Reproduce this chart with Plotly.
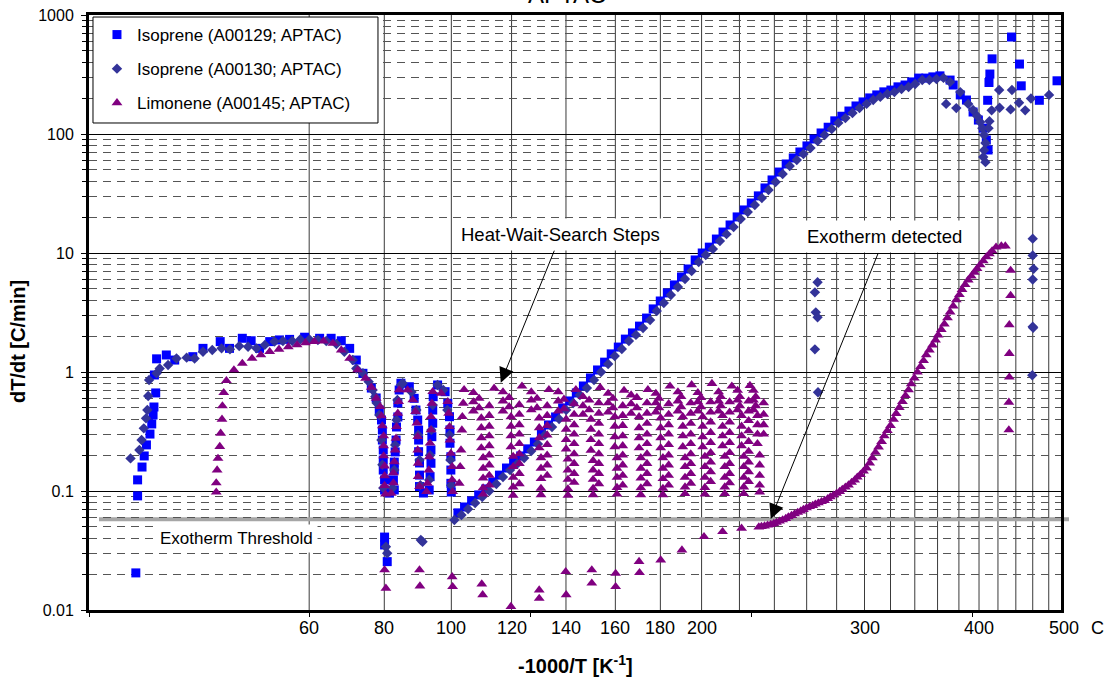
import math
import plotly.graph_objects as go

FONT = "Liberation Sans, Arial, Helvetica, sans-serif"

# ---------------------------------------------------------------------------
# Data: x = -1000/T [1/K], y = dT/dt [C/min]
# ---------------------------------------------------------------------------

# Isoprene, run A00129 (APTAC)
iso129_warmup = [
    (-3.390, 0.091), (-3.390, 0.124), (-3.380, 0.159), (-3.375, 0.197), (-3.370, 0.244),
    (-3.362, 0.301), (-3.358, 0.366), (-3.355, 0.435), (-3.353, 0.508), (-3.349, 0.667),
    (-3.352, 0.944), (-3.347, 1.29), (-3.325, 1.39), (-3.306, 1.26), (-3.265, 1.345),
    (-3.242, 1.58), (-3.203, 1.80), (-3.182, 1.58), (-3.153, 1.92), (-3.133, 1.83),
    (-3.114, 1.58), (-3.091, 1.80), (-3.069, 1.86), (-3.046, 1.88), (-3.012, 1.96),
    (-2.978, 1.92), (-2.952, 1.92), (-2.929, 1.83), (-2.910, 1.58), (-2.895, 1.26),
    (-2.880, 0.975), (-2.861, 0.733), (-2.850, 0.605), (-2.843, 0.479), (-2.838, 0.395),
    (-2.836, 0.325), (-2.836, 0.268), (-2.834, 0.221), (-2.834, 0.182), (-2.834, 0.150),
    (-2.831, 0.124), (-2.831, 0.102),
]
iso129_hws = [
    (-2.820, 0.096),
    (-2.809, 0.102), (-2.811, 0.124), (-2.809, 0.150), (-2.809, 0.175), (-2.807, 0.213),
    (-2.805, 0.268), (-2.804, 0.345), (-2.801, 0.419), (-2.801, 0.549), (-2.798, 0.706),
    (-2.794, 0.804), (-2.775, 0.752), (-2.764, 0.601), (-2.760, 0.479), (-2.756, 0.395),
    (-2.754, 0.325), (-2.754, 0.268), (-2.754, 0.214), (-2.752, 0.172), (-2.752, 0.136),
    (-2.752, 0.109), (-2.743, 0.0962),
    (-2.730, 0.102), (-2.728, 0.132), (-2.726, 0.171), (-2.726, 0.221), (-2.724, 0.286),
    (-2.722, 0.371), (-2.722, 0.479), (-2.721, 0.620), (-2.711, 0.778), (-2.694, 0.683),
    (-2.688, 0.546), (-2.684, 0.421), (-2.683, 0.326), (-2.683, 0.252), (-2.681, 0.194),
    (-2.681, 0.150), (-2.681, 0.116), (-2.680, 0.098),
]
iso129_low = [(-3.394, 0.0205), (-2.831, 0.041), (-2.831, 0.0352), (-2.825, 0.0255)]
iso129_exotherm = [
    (-2.665, 0.0655), (-2.650, 0.0734), (-2.634, 0.0825), (-2.618, 0.0927), (-2.602, 0.104),
    (-2.586, 0.119), (-2.571, 0.136), (-2.555, 0.156), (-2.539, 0.176), (-2.523, 0.197),
    (-2.507, 0.226), (-2.492, 0.258), (-2.476, 0.308), (-2.460, 0.359), (-2.444, 0.419),
    (-2.428, 0.499), (-2.412, 0.571), (-2.397, 0.667), (-2.381, 0.763), (-2.365, 0.891),
    (-2.349, 1.04), (-2.333, 1.21), (-2.318, 1.42), (-2.302, 1.62), (-2.286, 1.89),
    (-2.270, 2.13), (-2.254, 2.43), (-2.238, 2.84), (-2.223, 3.39), (-2.207, 3.95),
    (-2.191, 4.62), (-2.175, 5.39), (-2.159, 6.29), (-2.144, 7.34), (-2.128, 8.74),
    (-2.112, 10.0), (-2.096, 11.2), (-2.080, 13.1), (-2.065, 15.0), (-2.049, 17.2),
    (-2.033, 20.1), (-2.017, 23.0), (-2.001, 26.3), (-1.985, 30.2), (-1.970, 35.2),
    (-1.954, 41.1), (-1.938, 47.9), (-1.922, 56.0), (-1.906, 62.9), (-1.891, 70.6),
    (-1.875, 79.4), (-1.859, 90.8), (-1.843, 102), (-1.827, 114), (-1.812, 129),
    (-1.796, 141), (-1.780, 156), (-1.764, 172), (-1.748, 186), (-1.733, 201),
    (-1.717, 213), (-1.701, 226), (-1.685, 234), (-1.669, 249), (-1.653, 258),
    (-1.638, 274), (-1.622, 295), (-1.606, 295), (-1.590, 302), (-1.574, 308),
    (-1.551, 284), (-1.544, 258), (-1.528, 213), (-1.514, 193), (-1.499, 153),
    (-1.487, 131), (-1.476, 112), (-1.469, 89), (-1.465, 73.4),
]
iso129_runaway = [
    (-1.412, 653), (-1.456, 428), (-1.394, 387), (-1.461, 319), (-1.463, 271),
    (-1.390, 254), (-1.309, 280), (-1.466, 192), (-1.349, 192),
]

# Isoprene, run A00130 (APTAC)
iso130_warmup = [
    (-3.406, 0.188), (-3.386, 0.221), (-3.381, 0.268), (-3.376, 0.336), (-3.371, 0.408),
    (-3.368, 0.479), (-3.366, 0.628), (-3.364, 0.857), (-3.347, 0.975), (-3.340, 1.07),
    (-3.321, 1.145), (-3.302, 1.30), (-3.279, 1.32), (-3.261, 1.30), (-3.242, 1.48),
    (-3.221, 1.53), (-3.200, 1.58), (-3.181, 1.55), (-3.160, 1.65), (-3.140, 1.63),
    (-3.121, 1.58), (-3.102, 1.69), (-3.080, 1.80), (-3.061, 1.82), (-3.040, 1.82),
    (-3.022, 1.88), (-3.001, 1.88), (-2.982, 1.86), (-2.963, 1.82), (-2.940, 1.72),
    (-2.922, 1.48), (-2.903, 1.26), (-2.895, 1.07), (-2.880, 0.975), (-2.867, 0.83),
    (-2.858, 0.706), (-2.852, 0.62), (-2.849, 0.549), (-2.843, 0.435), (-2.838, 0.268),
    (-2.836, 0.166), (-2.834, 0.106),
]
iso130_hws = [
    (-2.813, 0.106), (-2.809, 0.150), (-2.807, 0.243), (-2.804, 0.395), (-2.802, 0.582),
    (-2.794, 0.778), (-2.790, 0.804), (-2.770, 0.679), (-2.759, 0.479), (-2.755, 0.296),
    (-2.752, 0.182), (-2.750, 0.112), (-2.730, 0.124), (-2.728, 0.200), (-2.725, 0.325),
    (-2.722, 0.528), (-2.711, 0.778), (-2.698, 0.706), (-2.689, 0.479), (-2.684, 0.296),
    (-2.682, 0.182), (-2.680, 0.112),
]
iso130_low = [(-2.828, 0.034), (-2.825, 0.030), (-2.749, 0.0387), (-2.745, 0.0375)]
iso130_exotherm = [
    (-2.673, 0.0571), (-2.657, 0.0629), (-2.642, 0.0706), (-2.626, 0.0793), (-2.610, 0.0891),
    (-2.594, 0.100), (-2.578, 0.1146), (-2.563, 0.131), (-2.547, 0.150), (-2.531, 0.169),
    (-2.515, 0.189), (-2.499, 0.217), (-2.484, 0.248), (-2.468, 0.296), (-2.452, 0.345),
    (-2.436, 0.403), (-2.420, 0.480), (-2.404, 0.549), (-2.389, 0.641), (-2.373, 0.734),
    (-2.357, 0.857), (-2.341, 1.00), (-2.325, 1.167), (-2.310, 1.362), (-2.294, 1.561),
    (-2.278, 1.82), (-2.262, 2.05), (-2.246, 2.34), (-2.230, 2.73), (-2.215, 3.26),
    (-2.199, 3.80), (-2.183, 4.44), (-2.167, 5.18), (-2.151, 6.05), (-2.136, 7.06),
    (-2.120, 8.40), (-2.104, 9.62), (-2.088, 10.8), (-2.072, 12.6), (-2.057, 14.4),
    (-2.041, 16.5), (-2.025, 19.3), (-2.009, 22.1), (-1.993, 25.3), (-1.977, 29.0),
    (-1.962, 33.8), (-1.946, 39.5), (-1.930, 46.1), (-1.914, 53.8), (-1.898, 60.5),
    (-1.883, 67.9), (-1.867, 76.3), (-1.851, 87.3), (-1.835, 98.1), (-1.819, 110),
    (-1.804, 124), (-1.788, 136), (-1.772, 150), (-1.756, 165), (-1.740, 179),
    (-1.725, 193), (-1.709, 205), (-1.693, 217), (-1.677, 225), (-1.661, 239),
    (-1.645, 248), (-1.630, 263), (-1.614, 284), (-1.598, 284), (-1.582, 290),
    (-1.566, 296),
    (-1.551, 273), (-1.560, 179), (-1.537, 165), (-1.528, 225), (-1.510, 179),
    (-1.499, 159), (-1.490, 142), (-1.483, 126), (-1.478, 112), (-1.474, 98),
    (-1.471, 84), (-1.474, 73), (-1.476, 64), (-1.471, 58),
]
iso130_runaway = [
    (-1.440, 234), (-1.411, 234), (-1.457, 158), (-1.439, 166), (-1.414, 161),
    (-1.395, 183), (-1.381, 158), (-1.368, 199), (-1.327, 213), (-1.462, 128),
    (-1.464, 112),
]
iso130_spikes = [
    (-1.851, 5.68), (-1.857, 4.67), (-1.855, 3.17), (-1.851, 2.88), (-1.857, 1.55),
    (-1.850, 0.675),
    (-1.364, 13.2), (-1.364, 9.55), (-1.362, 7.36), (-1.364, 5.98), (-1.364, 2.40),
    (-1.363, 2.35), (-1.365, 0.94),
]

# Limonene, run A00145 (APTAC)
lim_warmup = [
    (-3.212, 0.0977), (-3.212, 0.117), (-3.210, 0.150), (-3.208, 0.188), (-3.204, 0.236),
    (-3.202, 0.305), (-3.199, 0.40), (-3.198, 0.518), (-3.195, 0.67), (-3.189, 0.845),
    (-3.172, 1.04), (-3.153, 1.18), (-3.131, 1.30), (-3.111, 1.39), (-3.091, 1.48),
    (-3.070, 1.55), (-3.049, 1.63), (-3.029, 1.69), (-3.010, 1.76), (-2.990, 1.80),
    (-2.969, 1.82), (-2.948, 1.74), (-2.929, 1.53), (-2.910, 1.30), (-2.892, 1.04),
    (-2.874, 0.885), (-2.861, 0.744), (-2.850, 0.601), (-2.841, 0.511), (-2.838, 0.427),
    (-2.836, 0.352), (-2.833, 0.29), (-2.833, 0.239), (-2.833, 0.197), (-2.831, 0.162),
    (-2.831, 0.134), (-2.831, 0.111), (-2.829, 0.094),
]
lim_hws_early = [
    (-2.816, 0.0957), (-2.811, 0.117), (-2.811, 0.142), (-2.809, 0.176), (-2.807, 0.221),
    (-2.805, 0.277), (-2.804, 0.347), (-2.801, 0.450), (-2.799, 0.563), (-2.798, 0.706),
    (-2.779, 0.706), (-2.767, 0.582), (-2.761, 0.464), (-2.758, 0.371), (-2.756, 0.286),
    (-2.756, 0.221), (-2.755, 0.171), (-2.755, 0.132), (-2.752, 0.109), (-2.736, 0.0987),
    (-2.734, 0.116), (-2.731, 0.150), (-2.730, 0.194), (-2.728, 0.252), (-2.726, 0.326),
    (-2.726, 0.421), (-2.724, 0.546), (-2.722, 0.683), (-2.703, 0.662), (-2.688, 0.563),
    (-2.686, 0.450), (-2.684, 0.347), (-2.683, 0.268), (-2.681, 0.207), (-2.678, 0.160),
    (-2.678, 0.124), (-2.677, 0.0987),
    (-2.662, 0.116), (-2.660, 0.160), (-2.658, 0.221), (-2.656, 0.325), (-2.655, 0.421),
    (-2.653, 0.546),
]
# heat-wait-search steps 110..230 C: (x, [dT/dt readings at that x])
lim_step_cols = [
    (-2.651, [0.71]), (-2.630, [0.67, 0.56, 0.47]), (-2.617, [0.60, 0.50]),
    (-2.612, [0.41, 0.34, 0.28, 0.23]), (-2.608, [0.19, 0.155, 0.128, 0.106, 0.094]),
    (-2.594, [0.52, 0.43, 0.35, 0.29, 0.24, 0.20, 0.165, 0.135, 0.112]),

    (-2.583, [0.73]), (-2.563, [0.68, 0.57, 0.47]), (-2.549, [0.61, 0.51]),
    (-2.545, [0.42, 0.35, 0.29, 0.235]), (-2.540, [0.195, 0.16, 0.13, 0.108, 0.092]),
    (-2.526, [0.53, 0.44, 0.36, 0.30, 0.25, 0.205, 0.17, 0.14, 0.115]),

    (-2.520, [0.76]), (-2.499, [0.68, 0.58, 0.48]), (-2.486, [0.60, 0.50]),
    (-2.481, [0.41, 0.34, 0.28, 0.23]), (-2.477, [0.19, 0.155, 0.127, 0.105, 0.093]),
    (-2.463, [0.52, 0.43, 0.355, 0.295, 0.245, 0.20, 0.165, 0.135]),

    (-2.459, [0.71]), (-2.438, [0.68, 0.57, 0.47]), (-2.425, [0.59, 0.49]),
    (-2.420, [0.40, 0.33, 0.27, 0.225]), (-2.416, [0.185, 0.15, 0.125, 0.104, 0.092]),
    (-2.402, [0.54, 0.44, 0.36, 0.30, 0.25, 0.205, 0.17, 0.14, 0.118]),

    (-2.398, [0.71]), (-2.382, [0.62, 0.52, 0.44]), (-2.368, [0.58, 0.48]),
    (-2.364, [0.40, 0.33, 0.27, 0.22]), (-2.359, [0.18, 0.15, 0.125, 0.105, 0.093]),
    (-2.346, [0.55, 0.45, 0.37, 0.30, 0.25, 0.205, 0.17, 0.14, 0.115]),

    (-2.343, [0.74]), (-2.325, [0.66, 0.55, 0.46]), (-2.314, [0.60, 0.50]),
    (-2.310, [0.42, 0.35, 0.285, 0.235]), (-2.305, [0.19, 0.155, 0.13, 0.107, 0.094]),
    (-2.292, [0.52, 0.43, 0.355, 0.29, 0.24, 0.20, 0.165, 0.135, 0.112]),

    (-2.289, [0.70]), (-2.273, [0.64, 0.54, 0.45]), (-2.260, [0.61, 0.50]),
    (-2.255, [0.42, 0.34, 0.28, 0.23]), (-2.251, [0.19, 0.155, 0.128, 0.106, 0.093]),
    (-2.237, [0.55, 0.45, 0.37, 0.30, 0.25, 0.205, 0.17, 0.14, 0.115]),

    (-2.235, [0.71]), (-2.217, [0.66, 0.55, 0.46]), (-2.210, [0.60, 0.50]),
    (-2.206, [0.41, 0.34, 0.28, 0.23]), (-2.201, [0.19, 0.155, 0.127, 0.105, 0.093]),
    (-2.188, [0.54, 0.44, 0.36, 0.30, 0.245, 0.20, 0.165, 0.135, 0.112]),

    (-2.185, [0.76]), (-2.167, [0.68, 0.57, 0.47]), (-2.160, [0.62, 0.51]),
    (-2.156, [0.42, 0.35, 0.29, 0.235]), (-2.151, [0.19, 0.16, 0.13, 0.108, 0.095]),
    (-2.138, [0.55, 0.45, 0.37, 0.30, 0.25, 0.205, 0.17, 0.14, 0.116]),

    (-2.136, [0.78]), (-2.122, [0.67, 0.56, 0.47]), (-2.115, [0.61, 0.51]),
    (-2.111, [0.42, 0.35, 0.285, 0.235]), (-2.106, [0.195, 0.16, 0.13, 0.107, 0.094]),
    (-2.093, [0.56, 0.46, 0.38, 0.31, 0.255, 0.21, 0.175, 0.145, 0.12]),

    (-2.090, [0.80]), (-2.075, [0.68, 0.57, 0.47]), (-2.070, [0.62, 0.52]),
    (-2.066, [0.43, 0.35, 0.29, 0.24]), (-2.061, [0.195, 0.16, 0.13, 0.108, 0.095]),
    (-2.050, [0.56, 0.46, 0.38, 0.31, 0.255, 0.21, 0.17, 0.14, 0.117]),

    (-2.045, [0.76]), (-2.032, [0.70, 0.58, 0.48]), (-2.027, [0.62, 0.52]),
    (-2.023, [0.43, 0.35, 0.29, 0.24]), (-2.018, [0.195, 0.16, 0.13, 0.108, 0.095]),
    (-2.007, [0.57, 0.47, 0.39, 0.32, 0.26, 0.215, 0.175, 0.145, 0.12]),

    (-2.004, [0.77]), (-1.996, [0.70, 0.58, 0.48]), (-1.991, [0.62, 0.52]),
    (-1.987, [0.43, 0.36, 0.30, 0.25]), (-1.982, [0.20, 0.165, 0.135, 0.112, 0.098]),
    (-1.973, [0.55, 0.44, 0.36, 0.30]),
]
lim_low = [
    (-2.831, 0.0217), (-2.828, 0.0152), (-2.752, 0.0217), (-2.751, 0.0159),
    (-2.678, 0.0190), (-2.677, 0.0157), (-2.611, 0.0165), (-2.609, 0.0134),
    (-2.545, 0.0107), (-2.481, 0.0147), (-2.481, 0.0125), (-2.421, 0.0210),
    (-2.420, 0.0134), (-2.362, 0.0217), (-2.362, 0.0168), (-2.308, 0.0203),
    (-2.308, 0.0157), (-2.255, 0.0255), (-2.254, 0.0206), (-2.206, 0.0263),
    (-2.158, 0.0319), (-2.108, 0.0413), (-2.066, 0.0455), (-2.023, 0.0486),
]
lim_exotherm = [
    (-1.984, 0.0498), (-1.978, 0.0503), (-1.971, 0.0508), (-1.964, 0.0516),
    (-1.957, 0.0523), (-1.950, 0.0533), (-1.944, 0.0544), (-1.937, 0.0557),
    (-1.930, 0.0571), (-1.923, 0.0587), (-1.917, 0.0605), (-1.910, 0.0622),
    (-1.903, 0.0641), (-1.896, 0.0660), (-1.889, 0.0679), (-1.883, 0.0699),
    (-1.876, 0.0720), (-1.869, 0.0738), (-1.862, 0.0755), (-1.856, 0.0775),
    (-1.849, 0.0793), (-1.842, 0.0813), (-1.835, 0.0832), (-1.828, 0.0861),
    (-1.822, 0.0891), (-1.815, 0.0922), (-1.808, 0.0953), (-1.801, 0.0990),
    (-1.795, 0.103), (-1.788, 0.1076), (-1.781, 0.1123), (-1.774, 0.1179),
    (-1.767, 0.1237), (-1.761, 0.1306), (-1.754, 0.1376), (-1.747, 0.1466),
    (-1.740, 0.156), (-1.733, 0.1719), (-1.727, 0.1894), (-1.720, 0.2108),
    (-1.713, 0.2343), (-1.706, 0.2606), (-1.700, 0.290), (-1.693, 0.3213),
    (-1.686, 0.355), (-1.679, 0.399), (-1.673, 0.448), (-1.666, 0.503),
    (-1.659, 0.565), (-1.652, 0.632), (-1.645, 0.706), (-1.639, 0.793),
    (-1.632, 0.890), (-1.625, 0.996), (-1.618, 1.112), (-1.611, 1.245),
    (-1.605, 1.39), (-1.598, 1.530), (-1.591, 1.686), (-1.584, 1.857),
    (-1.578, 2.046), (-1.571, 2.276), (-1.564, 2.53), (-1.557, 2.844),
    (-1.551, 3.19), (-1.544, 3.586), (-1.537, 4.03), (-1.530, 4.463),
    (-1.524, 4.93), (-1.517, 5.418), (-1.510, 5.93), (-1.503, 6.385),
    (-1.496, 6.86), (-1.490, 7.38), (-1.483, 7.93), (-1.476, 8.57),
    (-1.469, 9.26), (-1.462, 9.81), (-1.456, 10.4), (-1.447, 11.2),
    (-1.435, 11.45), (-1.426, 11.45),
]
lim_tail = [
    (-1.414, 7.13), (-1.414, 4.39), (-1.417, 2.49), (-1.417, 1.43), (-1.417, 0.904),
    (-1.418, 0.556), (-1.418, 0.326),
]

# Axis / annotation values
X_RANGE = [-3.5, -1.3]
x_ticks = [-3.5, -3.0, -2.5, -2.0, -1.5]
temp_labels_c = [60, 80, 100, 120, 140, 160, 180, 200, 300, 400, 500]
grid_temps_c = list(range(60, 481, 20))
y_major = [0.01, 0.1, 1, 10, 100, 1000]
y_major_text = ["0.01", "0.1", "1", "10", "100", "1000"]
y_minor = [m * 10.0 ** k for k in range(-2, 3) for m in range(2, 10)]
exotherm_threshold = 0.058

hws_arrow_tip = (-2.568, 0.813)
detect_arrow_tip = (-1.957, 0.0582)
threshold_label = (-3.167, 0.0400)


def inv_temp(c):
    """Celsius -> -1000/T with T in kelvin."""
    return -1000.0 / (c + 273.15)


def to_paper_x(v):
    return (v - X_RANGE[0]) / (X_RANGE[1] - X_RANGE[0])


def flatten_cols(cols):
    pts = []
    for x, ys in cols:
        pts.extend((x, y) for y in ys)
    return pts


series = [
    ("Isoprene (A00129; APTAC)", "square", "#0000FF", 9,
     iso129_warmup + iso129_hws + iso129_low + iso129_exotherm + iso129_runaway),
    ("Isoprene (A00130; APTAC)", "diamond", "#333399", 8,
     iso130_warmup + iso130_hws + iso130_low + iso130_exotherm + iso130_runaway + iso130_spikes),
    ("Limonene (A00145; APTAC)", "triangle-up", "#800080", 9.5,
     lim_warmup + lim_hws_early + flatten_cols(lim_step_cols) + lim_low + lim_exotherm + lim_tail),
]

fig = go.Figure()
for name, symbol, color, size, pts in series:
    xs = [p[0] for p in pts]
    ys = [p[1] for p in pts]
    fig.add_trace(go.Scatter(
        x=xs, y=ys, mode="markers", name=name, legendgroup=name,
        marker=dict(symbol=symbol, color=color, size=size, line=dict(width=0)),
    ))

shapes = []
# vertical grid at every 20 C
for t in grid_temps_c:
    xv = inv_temp(t)
    shapes.append(dict(type="line", xref="x", yref="paper", x0=xv, x1=xv, y0=0, y1=1,
                       line=dict(color="#3a3a3a", width=1), layer="below"))
# exotherm detection threshold
shapes.append(dict(type="line", xref="paper", yref="y", x0=0.0103, x1=1.0082,
                   y0=exotherm_threshold, y1=exotherm_threshold,
                   line=dict(color="#a6a6a6", width=4), layer="between"))
# legend frame
shapes.append(dict(type="rect", xref="paper", yref="paper",
                   x0=0.0041, x1=0.2973, y0=0.8185, y1=0.9966,
                   line=dict(color="black", width=1), fillcolor="white", layer="above"))

annotations = []
# temperature scale under the axis
for t in temp_labels_c:
    annotations.append(dict(text=str(t), xref="paper", yref="paper",
                            x=to_paper_x(inv_temp(t)), y=-0.0303, xanchor="center",
                            yanchor="middle", showarrow=False,
                            font=dict(family=FONT, size=18, color="black")))
annotations.append(dict(text="C", xref="paper", yref="paper", x=1.038, y=-0.0303,
                        xanchor="center", yanchor="middle", showarrow=False,
                        font=dict(family=FONT, size=18, color="black")))
# axis titles
annotations.append(dict(text="<b>-1000/T [K<sup>-1</sup>]</b>", xref="paper", yref="paper",
                        x=0.5, y=-0.0924, xanchor="center", yanchor="middle", showarrow=False,
                        font=dict(family=FONT, size=20, color="black")))
annotations.append(dict(text="<b>dT/dt [C/min]</b>", xref="paper", yref="paper",
                        x=-0.073, y=0.4504, xanchor="center", yanchor="middle",
                        textangle=-90, showarrow=False,
                        font=dict(family=FONT, size=20, color="black")))
# chart title (runs off the top edge)
annotations.append(dict(text="APTAC", xref="paper", yref="paper", x=0.492, y=1.008,
                        xanchor="center", yanchor="bottom", showarrow=False,
                        font=dict(family=FONT, size=24, color="black")))
# callouts with arrows (ax/ay: pixel offset from the arrow tip to the label)
for text, (tx, ty), ax, ay in [("Heat-Wait-Search Steps", hws_arrow_tip, 60, -148),
                               ("Exotherm detected", detect_arrow_tip, 114, -282)]:
    annotations.append(dict(text=text, x=tx, y=math.log10(ty), xref="x", yref="y",
                            ax=ax, ay=ay, showarrow=True, arrowhead=2, arrowsize=3,
                            arrowwidth=1, arrowcolor="black", standoff=0,
                            bgcolor="white", borderpad=5,
                            font=dict(family=FONT, size=18.5, color="black")))
annotations.append(dict(text="Exotherm Threshold", x=threshold_label[0],
                        y=math.log10(threshold_label[1]), xref="x", yref="y",
                        showarrow=False, bgcolor="white", borderpad=4,
                        font=dict(family=FONT, size=17, color="black")))

fig.update_layout(
    width=1112, height=683,
    margin=dict(l=89, r=51, t=15, b=73, autoexpand=False),
    paper_bgcolor="white", plot_bgcolor="white",
    font=dict(family=FONT, color="black"),
    shapes=shapes, annotations=annotations,
    showlegend=True,
    legend=dict(x=0.0082, y=0.9966, xanchor="left", yanchor="top",
                bgcolor="rgba(0,0,0,0)", borderwidth=0,
                font=dict(family=FONT, size=17, color="black"),
                traceorder="grouped", tracegroupgap=9),
    xaxis=dict(range=X_RANGE, tickvals=x_ticks, showticklabels=False, automargin=False,
               ticks="outside", ticklen=4, tickcolor="black", showgrid=False,
               zeroline=False, showline=True, linewidth=3, linecolor="black", mirror=True),
    yaxis=dict(type="log", range=[-2, 3], tickvals=y_major, ticktext=y_major_text,
               automargin=False, ticks="outside", ticklen=5, tickcolor="black",
               ticklabelstandoff=4,
               tickfont=dict(family=FONT, size=16, color="black"),
               showgrid=True, gridcolor="black", gridwidth=1, zeroline=False,
               showline=True, linewidth=3, linecolor="black", mirror=True,
               minor=dict(tickvals=y_minor, ticks="outside", ticklen=4, tickcolor="black",
                          showgrid=True, gridcolor="#555555", gridwidth=1,
                          griddash="8px,6px")),
)

fig.write_html("out.html")
